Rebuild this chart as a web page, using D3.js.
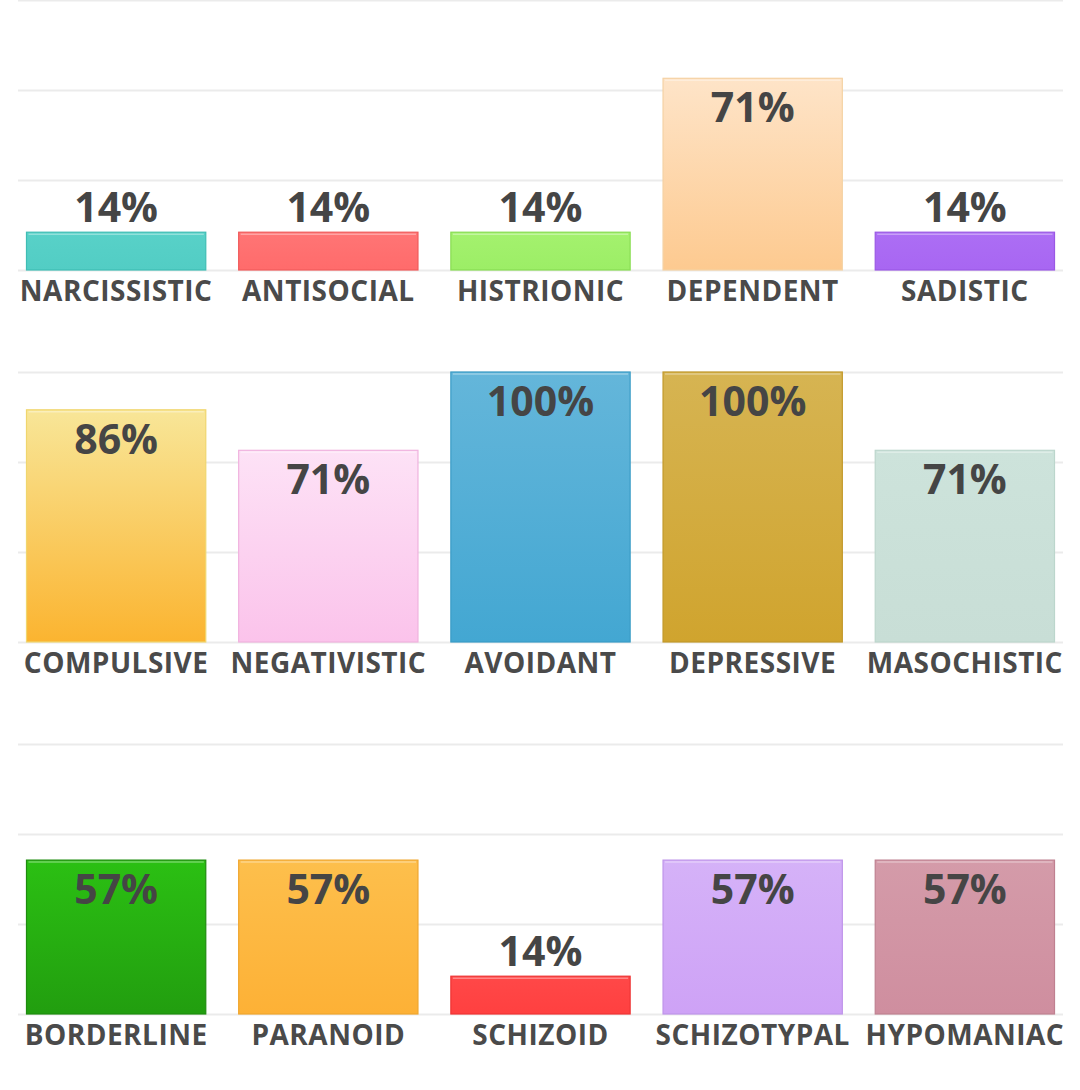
<!DOCTYPE html>
<html>
<head>
<meta charset="utf-8">
<script src="https://cdn.jsdelivr.net/npm/d3@7"></script>
<style>
  body { margin: 0; background: #fff; }
  svg { display: block; }
</style>
</head>
<body>
<svg id="chart" width="1080" height="1090"></svg>
<script>
// données, une liste par rangée
const labels1 = ["NARCISSISTIC", "ANTISOCIAL", "HISTRIONIC", "DEPENDENT", "SADISTIC"];
const values1 = [14, 14, 14, 71, 14];
const colTop1 = ["#58d1c8", "#ff7575", "#a4f16e", "#fee4c8", "#ac6ef4"];
const colBot1 = ["#52cdc4", "#ff6b6b", "#9cee66", "#fdca90", "#a866f2"];
const stroke1 = ["#3fbdb4", "#f05a5a", "#88dc52", "#f5d2a4", "#9a58e4"];

const labels2 = ["COMPULSIVE", "NEGATIVISTIC", "AVOIDANT", "DEPRESSIVE", "MASOCHISTIC"];
const values2 = [86, 71, 100, 100, 71];
const colTop2 = ["#f8e698", "#fde2f6", "#64b6da", "#d6b452", "#cde3db"];
const colBot2 = ["#fbb430", "#fbc3eb", "#43a7d2", "#d0a42e", "#c8ded6"];
const stroke2 = ["#f0d66e", "#f0b2de", "#3a9cc6", "#c2992a", "#bcd6cc"];

const labels3 = ["BORDERLINE", "PARANOID", "SCHIZOID", "SCHIZOTYPAL", "HYPOMANIAC"];
const values3 = [57, 57, 14, 57, 57];
const colTop3 = ["#2bc013", "#fdbf4c", "#ff4848", "#d5b2f8", "#d49ba9"];
const colBot3 = ["#229e0f", "#fdb136", "#ff4040", "#cea2f6", "#cf8e9f"];
const stroke3 = ["#1e8c0e", "#f0a62e", "#ee3434", "#bf94ea", "#bf8090"];

const gridTicks = [0, 33.33, 66.67, 100];

const rows = [
  {labels: labels1, values: values1, top: colTop1, bot: colBot1, stroke: stroke1, base: 270},
  {labels: labels2, values: values2, top: colTop2, bot: colBot2, stroke: stroke2, base: 642},
  {labels: labels3, values: values3, top: colTop3, bot: colBot3, stroke: stroke3, base: 1014}
];

const svg = d3.select("#chart");
const defs = svg.append("defs");
const barH = 270;
const left = 18, right = 1063;

rows.forEach(function(row, r){
  const x = d3.scaleBand()
      .domain(row.labels)
      .range([left, right])
      .paddingInner(0.155)
      .paddingOuter(0.04);
  const y = d3.scaleLinear()
      .domain([0, 100])
      .range([row.base, row.base - barH]);

  const g = svg.append("g");

  // lignes de grille
  g.append("g")
      .attr("transform", `translate(${left},0)`)
      .call(d3.axisLeft(y).tickValues(gridTicks).tickSize(-(right - left)).tickFormat(""))
      .call(a => a.select(".domain").remove())
      .call(a => a.selectAll(".tick line").attr("stroke", "#ebebeb").attr("stroke-width", 2));

  // dégradés
  row.labels.forEach(function(l, i){
    const grad = defs.append("linearGradient")
        .attr("id", "grad" + r + "_" + i)
        .attr("x1", 0).attr("y1", 0).attr("x2", 0).attr("y2", 1);
    grad.append("stop").attr("offset", "0%").attr("stop-color", row.top[i]);
    grad.append("stop").attr("offset", "100%").attr("stop-color", row.bot[i]);
  });

  const data = row.labels.map((l, i) => ({label: l, value: row.values[i], i: i}));

  g.selectAll("rect.bar")
    .data(data)
    .join("rect")
      .attr("class", "bar")
      .attr("x", d => x(d.label))
      .attr("y", d => y(d.value))
      .attr("width", x.bandwidth())
      .attr("height", d => y(0) - y(d.value))
      .attr("fill", d => `url(#grad${r}_${d.i})`)
      .attr("stroke", d => row.stroke[d.i])
      .attr("stroke-width", 1.2);

  // petit reflet en haut de la barre
  g.selectAll("line.hl")
    .data(data)
    .join("line")
      .attr("class", "hl")
      .attr("x1", d => x(d.label) + 2)
      .attr("x2", d => x(d.label) + x.bandwidth() - 2)
      .attr("y1", d => y(d.value) + 2)
      .attr("y2", d => y(d.value) + 2)
      .attr("stroke", "#fff")
      .attr("stroke-opacity", 0.35)
      .attr("stroke-width", 1.5);

  // valeurs
  g.selectAll("text.val")
    .data(data)
    .join("text")
      .attr("class", "val")
      .attr("x", d => x(d.label) + x.bandwidth() / 2)
      .attr("y", function(d){
        const h = y(0) - y(d.value);
        return h < 60 ? y(d.value) - 10 : y(d.value) + 44;
      })
      .attr("text-anchor", "middle")
      .attr("font-family", "'Open Sans', sans-serif")
      .attr("font-weight", 700)
      .attr("font-size", 41)
      .attr("fill", "#454545")
      .text(d => d.value + "%");

  // catégories
  g.selectAll("text.cat")
    .data(data)
    .join("text")
      .attr("class", "cat")
      .attr("x", d => x(d.label) + x.bandwidth() / 2)
      .attr("y", row.base + 31)
      .attr("text-anchor", "middle")
      .attr("font-family", "'Open Sans', sans-serif")
      .attr("font-weight", 700)
      .attr("font-size", 28)
      .attr("letter-spacing", 0.5)
      .attr("fill", "#4a4a4a")
      .text(d => d.label);
});
</script>
</body>
</html>
